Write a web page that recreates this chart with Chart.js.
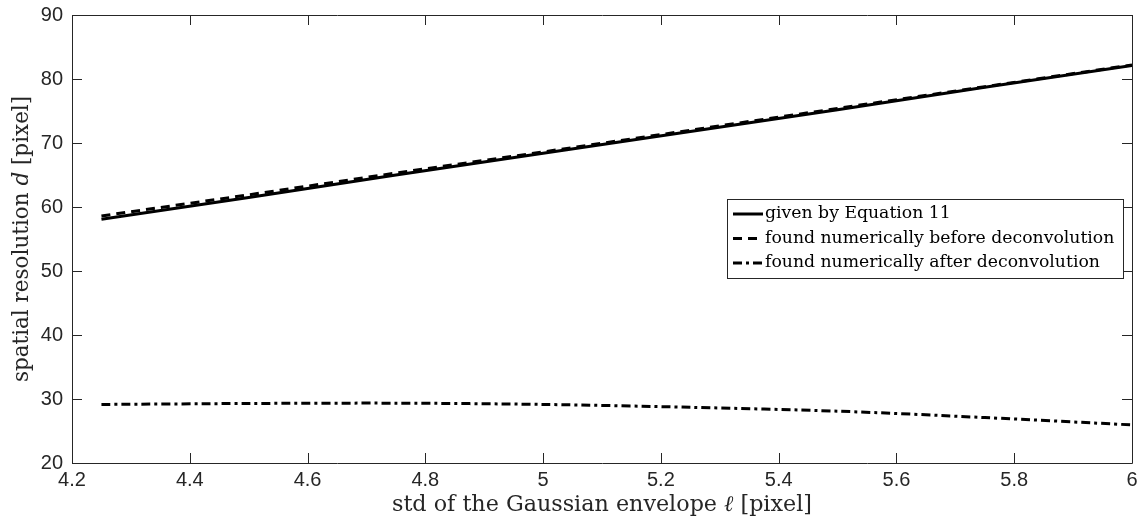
<!DOCTYPE html>
<html>
<head>
<meta charset="utf-8">
<script src="https://cdn.jsdelivr.net/npm/chart.js@4/dist/chart.umd.min.js"></script>
<style>
html,body{margin:0;padding:0;background:#fff;}
#wrap{width:1146px;height:525px;position:relative;}
</style>
</head>
<body>
<div id="wrap"><canvas id="c" width="1146" height="525"></canvas></div>
<script>
// ---- data ----
const ellValues = [4.25, 4.5, 4.75, 5, 5.25, 5.5, 5.75, 6];
const givenByEquation = [58.1, 61.5, 65.0, 68.4, 71.8, 75.2, 78.7, 82.1];
const numericBefore = [58.6, 61.9, 65.3, 68.6, 72.0, 75.4, 78.8, 82.2];
const numericAfter = [29.15, 29.3, 29.35, 29.15, 28.7, 28.1, 27.1, 25.95];
const seriesLabels = ['given by Equation 11', 'found numerically before deconvolution', 'found numerically after deconvolution'];
const xTickValues = [4.2, 4.4, 4.6, 4.8, 5, 5.2, 5.4, 5.6, 5.8, 6];
const yTickValues = [20, 30, 40, 50, 60, 70, 80, 90];

const toPts = (xs, ys) => xs.map((x, i) => ({x: x, y: ys[i]}));
const axisColor = '#262626';
const SERIF = '"DejaVu Serif", "Liberation Serif", serif';

function fitFont(ctx, pieces, targetW, maxSize) {
  let size = maxSize;
  for (let k = 0; k < 60; k++) {
    let w = 0;
    pieces.forEach(p => { ctx.font = (p[1] ? 'italic ' : '') + size + 'px ' + SERIF; w += ctx.measureText(p[0]).width; });
    if (w <= targetW) return {size, w};
    size -= 0.25;
  }
  return {size, w: targetW};
}
function drawPieces(ctx, pieces, x, y, size) {
  let cx = x;
  pieces.forEach(p => {
    ctx.font = (p[1] ? 'italic ' : '') + size + 'px ' + SERIF;
    ctx.fillText(p[0], cx, y);
    cx += ctx.measureText(p[0]).width;
  });
}

const framePlugin = {
  id: 'frame',
  afterDraw(chart) {
    const ctx = chart.ctx;
    const a = chart.chartArea;
    const xs = chart.scales.x, ys = chart.scales.y;
    ctx.save();
    ctx.strokeStyle = axisColor;
    ctx.lineWidth = 1;
    ctx.beginPath();
    ctx.rect(Math.round(a.left) + 0.5, Math.round(a.top) + 0.5, Math.round(a.right - a.left), Math.round(a.bottom - a.top));
    ctx.stroke();
    const tl = 10;
    ctx.beginPath();
    xTickValues.forEach(v => {
      const px = Math.round(xs.getPixelForValue(v)) + 0.5;
      ctx.moveTo(px, a.bottom); ctx.lineTo(px, a.bottom - tl);
      ctx.moveTo(px, a.top); ctx.lineTo(px, a.top + tl);
    });
    yTickValues.forEach(v => {
      const py = Math.round(ys.getPixelForValue(v)) + 0.5;
      ctx.moveTo(a.left, py); ctx.lineTo(a.left + tl, py);
      ctx.moveTo(a.right, py); ctx.lineTo(a.right - tl, py);
    });
    ctx.stroke();

    ctx.fillStyle = axisColor;
    ctx.textBaseline = 'middle';
    ctx.textAlign = 'left';
    const xPieces = [['std of the Gaussian envelope ', false], ['\u2113', true], [' [pixel]', false]];
    const xf = fitFont(ctx, xPieces, 424, 24);
    drawPieces(ctx, xPieces, (a.left + a.right) / 2 - xf.w / 2, 505, xf.size);
    const yPieces = [['spatial resolution ', false], ['d', true], [' [pixel]', false]];
    const yf = fitFont(ctx, yPieces, 288, 24);
    ctx.translate(22, (a.top + a.bottom) / 2);
    ctx.rotate(-Math.PI / 2);
    drawPieces(ctx, yPieces, -yf.w / 2, 0, yf.size);
    ctx.restore();

    // legend
    ctx.save();
    const lx = 727.5, ly = 199.5, lw = 396, lh = 79;
    ctx.fillStyle = '#fff';
    ctx.fillRect(lx, ly, lw, lh);
    ctx.strokeStyle = axisColor;
    ctx.lineWidth = 1;
    ctx.strokeRect(lx, ly, lw, lh);
    ctx.textBaseline = 'middle';
    ctx.textAlign = 'left';
    const lf = fitFont(ctx, [[seriesLabels[1], false]], 352, 22);
    chart.data.datasets.forEach((ds, i) => {
      const yy = 214 + i * 24.5;
      ctx.strokeStyle = ds.borderColor;
      ctx.lineWidth = ds.borderWidth;
      ctx.setLineDash(ds.borderDash || []);
      ctx.beginPath();
      ctx.moveTo(733, yy); ctx.lineTo(763, yy);
      ctx.stroke();
      ctx.setLineDash([]);
      ctx.fillStyle = '#000';
      ctx.font = lf.size + 'px ' + SERIF;
      ctx.fillText(ds.label, 765, yy);
    });
    ctx.restore();
  }
};

new Chart(document.getElementById('c'), {
  type: 'line',
  data: {
    datasets: [
      {label: seriesLabels[0], data: toPts(ellValues, givenByEquation), borderColor: '#000', borderWidth: 3, pointRadius: 0, fill: false, tension: 0},
      {label: seriesLabels[1], data: toPts(ellValues, numericBefore), borderColor: '#000', borderWidth: 3, borderDash: [9, 6], pointRadius: 0, fill: false, tension: 0},
      {label: seriesLabels[2], data: toPts(ellValues, numericAfter), borderColor: '#000', borderWidth: 3, borderDash: [9, 4, 3, 4], pointRadius: 0, fill: false, tension: 0.3}
    ]
  },
  options: {
    responsive: false,
    animation: false,
    layout: {padding: {top: 15, right: 14, left: 0, bottom: 0}},
    plugins: {legend: {display: false}, tooltip: {enabled: false}},
    scales: {
      x: {
        type: 'linear', min: 4.2, max: 6,
        afterBuildTicks: s => { s.ticks = xTickValues.map(v => ({value: v})); },
        afterFit: s => { s.height = 62; s.paddingLeft = 0; s.paddingRight = 0; },
        grid: {display: false, drawTicks: false},
        border: {display: false},
        ticks: {color: axisColor, font: {family: '"Liberation Sans", Arial, sans-serif', size: 20}, padding: 5, maxRotation: 0,
          callback: v => String(Number(v.toFixed(1)))}
      },
      y: {
        type: 'linear', min: 20, max: 90,
        afterBuildTicks: s => { s.ticks = yTickValues.map(v => ({value: v})); },
        afterFit: s => { s.width = 72; s.paddingTop = 0; s.paddingBottom = 0; },
        grid: {display: false, drawTicks: false},
        border: {display: false},
        ticks: {color: axisColor, font: {family: '"Liberation Sans", Arial, sans-serif', size: 20}, padding: 9}
      }
    }
  },
  plugins: [framePlugin]
});
</script>
</body>
</html>
